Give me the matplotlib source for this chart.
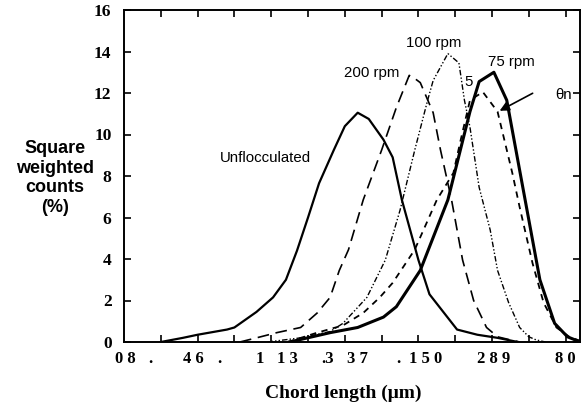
import matplotlib.pyplot as plt
from matplotlib.transforms import blended_transform_factory

# chord length channel position (axis runs in tick units) and % values
unfloc_x = [1.0, 1.6, 2.0, 2.8, 3.0, 3.6, 4.05, 4.4, 4.7, 5.0, 5.3, 5.7, 6.0, 6.35, 6.65, 7.05, 7.3, 7.55, 8.0, 8.3, 9.05, 9.6, 10.15, 10.7]
unfloc_y = [0, 0.2, 0.35, 0.6, 0.7, 1.45, 2.15, 3.0, 4.4, 6.0, 7.65, 9.25, 10.4, 11.05, 10.75, 9.75, 8.9, 6.85, 3.95, 2.3, 0.6, 0.35, 0.2, 0]

rpm200_x = [3.15, 3.6, 4.15, 4.8, 5.25, 5.6, 5.85, 6.1, 6.5, 7.0, 7.4, 7.75, 7.9, 8.05, 8.4, 8.6, 8.9, 9.2, 9.5, 9.85, 10.15, 10.5, 10.75]
rpm200_y = [0, 0.2, 0.45, 0.7, 1.4, 2.15, 3.45, 4.45, 6.85, 9.25, 11.3, 12.85, 12.7, 12.5, 11.05, 9.25, 6.85, 3.95, 2.0, 0.7, 0.25, 0.1, 0]

rpm100_x = [3.9, 4.8, 5.6, 5.95, 6.6, 7.1, 7.5, 7.9, 8.25, 8.4, 8.8, 9.1, 9.25, 9.4, 9.65, 9.95, 10.15, 10.45, 10.75, 11.0, 11.2, 11.45]
rpm100_y = [0, 0.2, 0.5, 0.9, 2.15, 3.95, 6.35, 9.25, 11.65, 12.6, 13.9, 13.45, 11.65, 10.35, 7.45, 5.4, 3.45, 1.9, 0.7, 0.25, 0.1, 0]

rpm75_x = [4.5, 5.6, 6.35, 7.05, 7.4, 8.05, 8.8, 9.4, 9.65, 10.05, 10.4, 10.8, 11.3, 11.7, 12.05, 12.4]
rpm75_y = [0, 0.45, 0.7, 1.2, 1.7, 3.45, 6.85, 11.1, 12.55, 13.0, 11.65, 7.8, 3.0, 0.9, 0.25, 0]

rpm50_x = [4.45, 5.25, 5.95, 6.5, 6.95, 7.3, 7.9, 8.5, 8.95, 9.15, 9.4, 9.75, 10.15, 10.55, 10.75, 11.1, 11.4, 11.75, 12.1, 12.4]
rpm50_y = [0, 0.45, 0.8, 1.4, 2.15, 2.85, 4.45, 6.85, 8.15, 9.75, 11.65, 12.05, 11.1, 8.15, 6.5, 3.8, 1.9, 0.7, 0.25, 0.05]

# garbled tick labels as they appear under the axis
xlab_text = ["0 8", ".", "4 6", ".", "1", "1 3", ".3", "3 7", ".", "1 5 0", "2 8 9", "8 0"]
xlab_pos = [0.03, 0.71, 1.88, 2.58, 3.7, 4.43, 5.52, 6.33, 7.45, 8.2, 10.03, 12.0]

yticks = list(range(0, 17, 2))

fig = plt.figure(figsize=(5.87, 4.08), dpi=100)
ax = fig.add_axes([124 / 587, 1 - 342 / 408, 456 / 587, 332 / 408])

ax.plot(unfloc_x, unfloc_y, color='black', lw=1.6)
ax.plot(rpm200_x, rpm200_y, color='black', lw=1.2, dashes=(7, 4))
ax.plot(rpm100_x, rpm100_y, color='black', lw=1.0, dashes=(4, 1.5, 1, 1.5, 1, 1.5))
ax.plot(rpm75_x, rpm75_y, color='black', lw=2.2)
ax.plot(rpm50_x, rpm50_y, color='black', lw=1.3, dashes=(3.5, 3))

ax.set_xlim(0, 12.39)
ax.set_ylim(0, 16)
ax.set_xticks(range(1, 13))
ax.set_xticklabels([])
ax.set_yticks(yticks)
ax.set_yticklabels([str(v) for v in yticks], fontfamily='Liberation Serif',
                   fontweight='bold', fontsize=12.5)
ax.tick_params(direction='in', length=5, width=1.2, top=True, right=True)
ax.tick_params(axis='y', pad=9)
for s in ax.spines.values():
    s.set_linewidth(1.4)

trans = blended_transform_factory(ax.transData, ax.transAxes)
for t, p in zip(xlab_text, xlab_pos):
    ax.text(p, -0.05, t, transform=trans, ha='center', va='center',
            fontfamily='Liberation Serif', fontweight='bold', fontsize=12, clip_on=False)

sans = dict(fontfamily='Liberation Sans', fontsize=10.8)
ax.text(3.83, 8.87, 'Unflocculated', ha='center', va='center', **sans)
ax.text(6.74, 12.96, '200 rpm', ha='center', va='center', **sans)
ax.text(8.42, 14.4, '100 rpm', ha='center', va='center', **sans)
ax.text(10.52, 13.5, '75 rpm', ha='center', va='center', **sans)
ax.text(9.35, 12.53, '5', ha='center', va='center', **sans)
ax.text(11.93, 11.9, 'θn', ha='center', va='center', **sans)
ax.annotate('', xy=(10.14, 11.08), xytext=(11.17, 12.05),
            arrowprops=dict(arrowstyle='-|>', color='black', lw=1.2, mutation_scale=14))

fig.text(55 / 587, 1 - 178 / 408, 'Square\nweighted\ncounts\n(%)', ha='center', va='center',
         multialignment='center', fontfamily='Liberation Sans', fontweight='bold',
         fontsize=13, linespacing=1.2)
fig.text(343 / 587, 1 - 393 / 408, 'Chord length (μm)', ha='center', va='center',
         fontfamily='Liberation Serif', fontweight='bold', fontsize=14)

fig.savefig('out.png', dpi=100)
